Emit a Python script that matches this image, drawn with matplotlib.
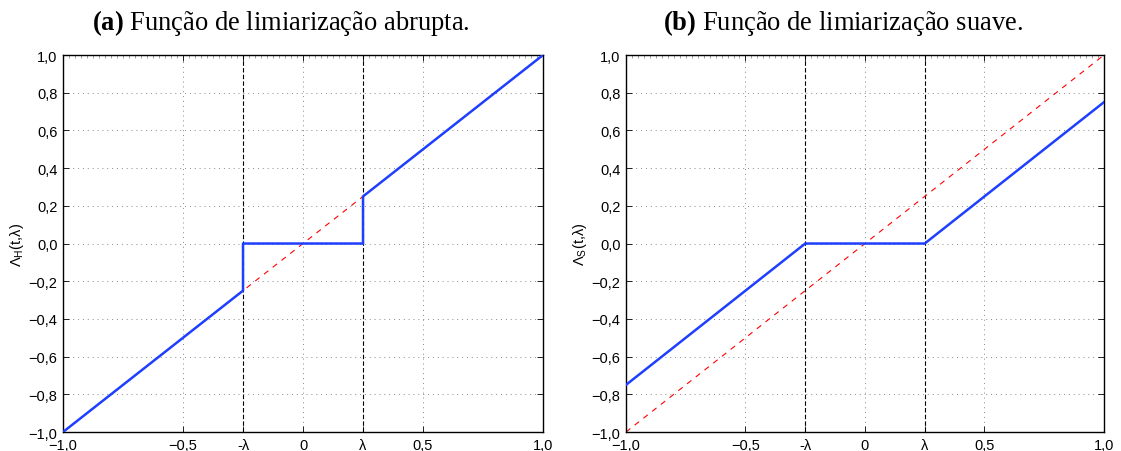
import matplotlib.pyplot as plt
import numpy as np
from matplotlib.ticker import MultipleLocator

plt.rcParams['font.family'] = ['Liberation Sans', 'DejaVu Sans']
plt.rcParams['mathtext.fontset'] = 'custom'
plt.rcParams['mathtext.rm'] = 'Liberation Serif'
plt.rcParams['mathtext.bf'] = 'Liberation Serif:bold'
plt.rcParams['mathtext.sf'] = 'Liberation Sans'

lam = 0.25

# dados
t_hard = [-1.0, -0.25, -0.25, 0.25, 0.25, 1.0]
y_hard = [-1.0, -0.25, 0.0, 0.0, 0.25, 1.0]
t_soft = [-1.0, -0.25, 0.25, 1.0]
y_soft = [-0.75, 0.0, 0.0, 0.75]
t_ident = [-1.0, 1.0]
y_ident = [-1.0, 1.0]

xticks = [-1.0, -0.5, -lam, 0.0, lam, 0.5, 1.0]
xticklabels = ['\u22121,0', '\u22120,5', '-\u03bb', '0', '\u03bb', '0,5', '1,0']
yticks = [-1.0, -0.8, -0.6, -0.4, -0.2, 0.0, 0.2, 0.4, 0.6, 0.8, 1.0]
yticklabels = ['\u22121,0', '\u22120,8', '\u22120,6', '\u22120,4', '\u22120,2', '0,0',
               '0,2', '0,4', '0,6', '0,8', '1,0']

titles = [r'$\mathbf{(a)}$ Função de limiarização abrupta.',
          r'$\mathbf{(b)}$ Função de limiarização suave.']
ylabels = ['\u039b$_\\mathsf{H}$(t,\u03bb)', '\u039b$_\\mathsf{S}$(t,\u03bb)']

fig = plt.figure(figsize=(11.21, 4.52), dpi=100)
ax1 = fig.add_axes([0.0562, 0.042, 0.4282, 0.834])
ax2 = fig.add_axes([0.5584, 0.042, 0.4264, 0.834])

for ax, tx, ty, title, ylab in [(ax1, t_hard, y_hard, titles[0], ylabels[0]),
                                (ax2, t_soft, y_soft, titles[1], ylabels[1])]:
    ax.set_xlim(-1, 1)
    ax.set_ylim(-1, 1)
    ax.plot(t_ident, y_ident, color='red', ls=(0, (5, 5)), lw=0.8, zorder=2)
    ax.axvline(-lam, color='black', ls=(0, (4, 2)), lw=0.8, zorder=1)
    ax.axvline(lam, color='black', ls=(0, (4, 2)), lw=0.8, zorder=1)
    ax.plot(tx, ty, color='#1f3fff', lw=1.8, zorder=3)

    ax.set_xticks(xticks)
    ax.set_xticklabels(xticklabels, fontsize=10.5)
    ax.set_yticks(yticks)
    ax.set_yticklabels(yticklabels, fontsize=10.5)
    ax.xaxis.set_minor_locator(MultipleLocator(0.025))
    ax.tick_params(which='both', direction='in', top=True, right=True)
    ax.tick_params(which='major', length=4, width=0.6)
    ax.tick_params(axis='x', which='major', pad=4)
    ax.tick_params(axis='y', which='major', pad=4)
    ax.tick_params(which='minor', length=2, width=0.4, color='#555555', bottom=False)
    for x in [-0.5, 0.0, 0.5]:
        ax.axvline(x, color='#888888', ls=(0, (1, 4)), lw=0.7, zorder=0)
    for y in yticks[1:-1]:
        ax.axhline(y, color='#888888', ls=(0, (1, 4)), lw=0.7, zorder=0)
    for s in ax.spines.values():
        s.set_linewidth(1.0)
    ax.set_ylabel(ylab, fontsize=10.5, labelpad=2)
    ax.set_title(title, fontsize=19.1, family='Liberation Serif', pad=18.5, x=0.454)

fig.savefig('out.png', dpi=100)
